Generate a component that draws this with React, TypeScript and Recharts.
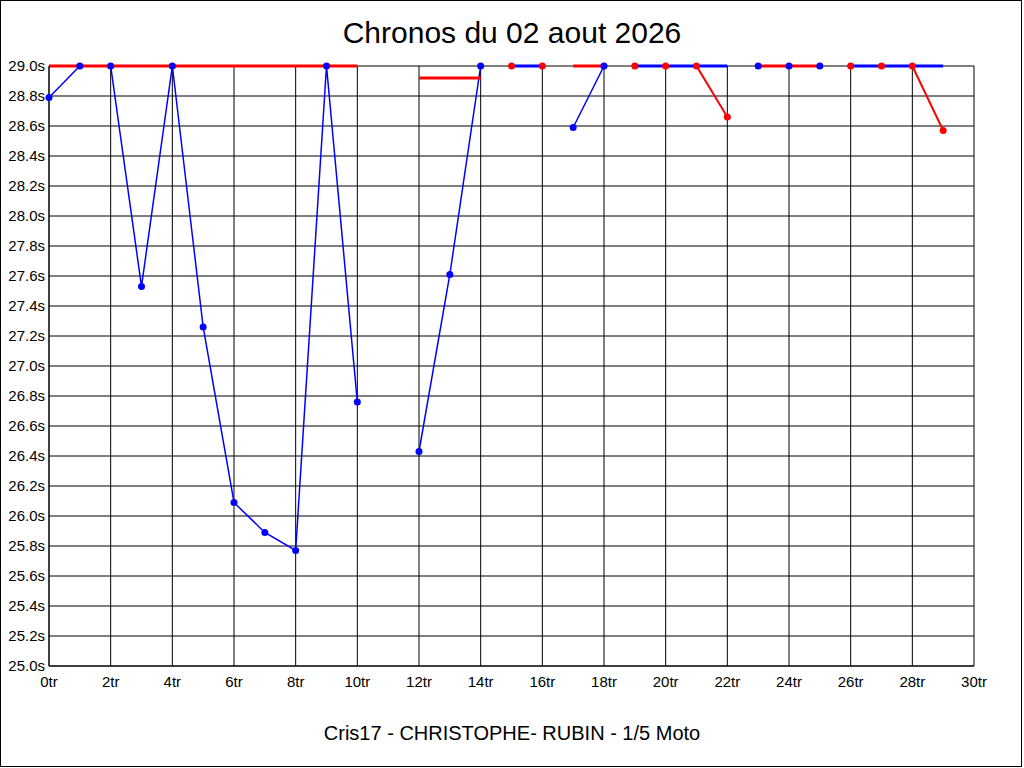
import React from 'react';
import { LineChart, Line, XAxis, YAxis, CartesianGrid } from 'recharts';

const laps = [0, 1, 2, 3, 4, 5, 6, 7, 8, 9, 10, 11, 12, 13, 14, 15, 16, 17, 18, 19, 20, 21, 22, 23, 24, 25, 26, 27, 28, 29];

// Blue laps (groups 1, 3, 5, 7) drawn with blue markers
const blueA = [28.79, 29.0, 29.0, 27.53, 29.0, 27.26, 26.09, 25.89, 25.77, 29.0, 26.76, null, 26.43, 27.61, 29.0, null, null, 28.59, 29.0, null, null, null, null, 29.0, 29.0, 29.0, null, null, null, null];
// Red reference for the same groups
const redA = [29.0, 29.0, 29.0, 29.0, 29.0, 29.0, 29.0, 29.0, 29.0, 29.0, 29.0, null, 28.92, 28.92, 28.92, null, null, 29.0, 29.0, null, null, null, null, 29.0, 29.0, 29.0, null, null, null, null];
// Blue laps (groups 2, 4, 6)
const blueB = [null, null, null, null, null, null, null, null, null, null, null, null, null, null, null, 29.0, 29.0, null, null, 29.0, 29.0, 29.0, 29.0, null, null, null, 29.0, 29.0, 29.0, 29.0];
// Red laps with red markers (groups 2, 4, 6)
const redB = [null, null, null, null, null, null, null, null, null, null, null, null, null, null, null, 29.0, 29.0, null, null, 29.0, 29.0, 29.0, 28.66, null, null, null, 29.0, 29.0, 29.0, 28.57];

const xTicks = [0, 2, 4, 6, 8, 10, 12, 14, 16, 18, 20, 22, 24, 26, 28, 30];
const gridXTicks = [0, 2, 4, 6, 8, 10, 12, 14, 16, 18, 20, 22, 24, 26, 28];
const yTicks = [25.0, 25.2, 25.4, 25.6, 25.8, 26.0, 26.2, 26.4, 26.6, 26.8, 27.0, 27.2, 27.4, 27.6, 27.8, 28.0, 28.2, 28.4, 28.6, 28.8, 29.0];

const title = 'Chronos du 02 aout 2026';
const subtitle = 'Cris17 - CHRISTOPHE- RUBIN - 1/5 Moto';

const data = laps.map((lap, i) => ({
  lap,
  blueA: blueA[i],
  redA: redA[i],
  blueB: blueB[i],
  redB: redB[i],
}));

const FONT = '"Liberation Sans", Arial, sans-serif';
const BLUE = '#0000ff';
const RED = '#ff0000';
const tickStyle = { fill: '#000', fontSize: 15, fontFamily: FONT };

export default function App() {
  return (
    <div style={{ position: 'absolute', left: 0, top: 0, width: 1024, height: 768, background: '#fff', fontFamily: FONT }}>
      <div style={{ position: 'absolute', left: 0, top: 0, width: 1022, height: 767, border: '1px solid #000', boxSizing: 'border-box', pointerEvents: 'none' }} />
      <div style={{ position: 'absolute', left: 0, top: 15, width: 1024, textAlign: 'center', fontSize: 30, lineHeight: '36px', color: '#000' }}>{title}</div>
      <div style={{ position: 'absolute', left: 0, top: 721, width: 1024, textAlign: 'center', fontSize: 20, lineHeight: '24px', color: '#000' }}>{subtitle}</div>
      <div style={{ position: 'absolute', left: 0, top: 0 }}>
        <LineChart width={1024} height={768} data={data} margin={{ top: 66, right: 0, bottom: 72, left: 0 }}>
          <XAxis xAxisId="grid" type="number" dataKey="lap" domain={[0, 30]} ticks={gridXTicks} hide />
          <CartesianGrid xAxisId="grid" yAxisId="left" stroke="#000" strokeOpacity={1} />
          <XAxis
            type="number"
            dataKey="lap"
            domain={[0, 30]}
            ticks={xTicks}
            interval={0}
            height={30}
            tickFormatter={(v: number) => `${v}tr`}
            tick={tickStyle}
            tickLine={false}
            tickSize={0}
            tickMargin={10}
            axisLine={{ stroke: '#000' }}
          />
          <YAxis
            yAxisId="left"
            domain={[25, 29]}
            ticks={yTicks}
            interval={0}
            width={49}
            tickFormatter={(v: number) => `${v.toFixed(1)}s`}
            tick={tickStyle}
            tickLine={false}
            tickSize={0}
            tickMargin={4}
            axisLine={{ stroke: '#000' }}
          />
          <YAxis
            yAxisId="right"
            orientation="right"
            domain={[25, 29]}
            ticks={yTicks}
            interval={0}
            width={50}
            tickFormatter={(v: number) => `${v.toFixed(1)}s`}
            tick={tickStyle}
            tickLine={false}
            tickSize={0}
            tickMargin={4}
            axisLine={false}
          />
          <Line yAxisId="left" dataKey="blueA" stroke={BLUE} strokeWidth={1.5} dot={false} isAnimationActive={false} connectNulls={false} />
          <Line yAxisId="left" dataKey="redA" stroke={RED} strokeWidth={3} dot={false} isAnimationActive={false} connectNulls={false} />
          <Line yAxisId="left" dataKey="redB" stroke={RED} strokeWidth={2} dot={false} isAnimationActive={false} connectNulls={false} />
          <Line yAxisId="left" dataKey="blueB" stroke={BLUE} strokeWidth={3} dot={false} isAnimationActive={false} connectNulls={false} />
          <Line yAxisId="left" dataKey="blueA" stroke="none" strokeWidth={0} dot={{ r: 3.5, fill: BLUE, stroke: BLUE, strokeWidth: 0 }} activeDot={false} isAnimationActive={false} />
          <Line yAxisId="left" dataKey="redB" stroke="none" strokeWidth={0} dot={{ r: 3.5, fill: RED, stroke: RED, strokeWidth: 0 }} activeDot={false} isAnimationActive={false} />
        </LineChart>
      </div>
    </div>
  );
}
